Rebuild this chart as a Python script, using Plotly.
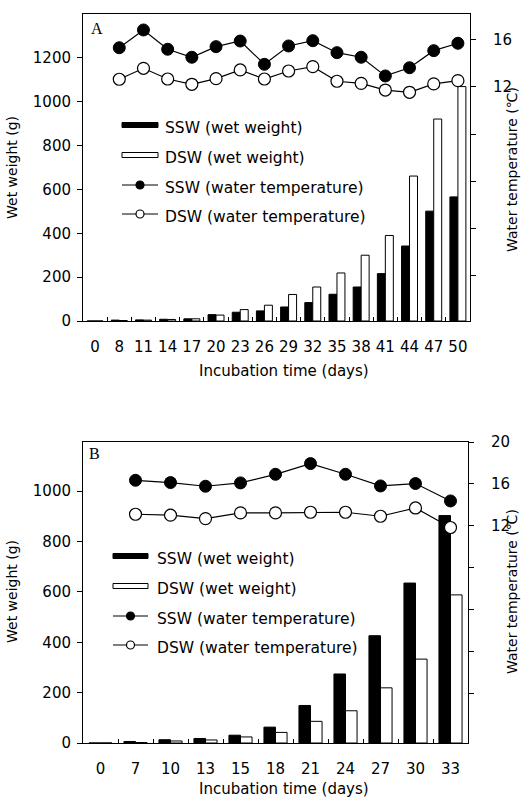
import plotly.graph_objects as go

W, H = 527, 799

# ---- Panel A data ----
days_a = ["0", "8", "11", "14", "17", "20", "23", "26", "29", "32", "35", "38", "41", "44", "47", "50"]
ssw_wt_a = [0, 4, 5, 8, 10, 29, 40, 46, 64, 84, 122, 155, 216, 342, 501, 566]
dsw_wt_a = [0, 2, 4, 7, 10, 27, 52, 72, 121, 155, 219, 300, 390, 661, 921, 1069]
temp_days_a = ["8", "11", "14", "17", "20", "23", "26", "29", "32", "35", "38", "41", "44", "47", "50"]
ssw_temp_a = [15.34, 16.85, 15.21, 14.53, 15.43, 15.91, 13.93, 15.49, 15.94, 14.92, 14.53, 12.94, 13.64, 15.09, 15.72]
dsw_temp_a = [12.66, 13.59, 12.68, 12.23, 12.71, 13.45, 12.68, 13.36, 13.73, 12.49, 12.31, 11.74, 11.55, 12.26, 12.54]

# ---- Panel B data ----
days_b = ["0", "7", "10", "13", "15", "18", "21", "24", "27", "30", "33"]
ssw_wt_b = [0, 6, 13, 18, 31, 63, 149, 274, 426, 635, 903]
dsw_wt_b = [0, 2, 8, 12, 24, 42, 86, 128, 219, 333, 588]
temp_days_b = ["7", "10", "13", "15", "18", "21", "24", "27", "30", "33"]
ssw_temp_b = [16.35, 16.13, 15.78, 16.10, 16.92, 17.94, 16.92, 15.81, 16.04, 14.38]
dsw_temp_b = [13.11, 13.02, 12.70, 13.24, 13.24, 13.30, 13.30, 12.92, 13.71, 11.85]

wt_ticks_a = [0, 200, 400, 600, 800, 1000, 1200]
wt_ticks_b = [0, 200, 400, 600, 800, 1000]
temp_ticks_a = [-4, 0, 4, 8, 12, 16]
temp_labels_a = ["", "", "", "", "12", "16"]
temp_ticks_b = [-4, 0, 4, 8, 12, 16, 20]
temp_labels_b = ["", "", "", "", "12", "16", "20"]

legend_labels = ["SSW (wet weight)", "DSW (wet weight)",
                 "SSW (water temperature)", "DSW (water temperature)"]

FONT = "DejaVu Sans"


def px(x):
    return x / W


def py(y):
    return 1 - y / H


fig = go.Figure()

bar_style = dict(width=0.33, showlegend=False)
fig.add_trace(go.Bar(x=days_a, y=ssw_wt_a, marker=dict(color="black", line=dict(color="black", width=1)),
                     xaxis="x", yaxis="y", **bar_style))
fig.add_trace(go.Bar(x=days_a, y=dsw_wt_a, marker=dict(color="white", line=dict(color="black", width=1)),
                     xaxis="x", yaxis="y", **bar_style))
fig.add_trace(go.Bar(x=days_b, y=ssw_wt_b, marker=dict(color="black", line=dict(color="black", width=1)),
                     xaxis="x2", yaxis="y3", **bar_style))
fig.add_trace(go.Bar(x=days_b, y=dsw_wt_b, marker=dict(color="white", line=dict(color="black", width=1)),
                     xaxis="x2", yaxis="y3", **bar_style))

line_style = dict(mode="lines+markers", line=dict(color="black", width=1.2), showlegend=False)
fig.add_trace(go.Scatter(x=temp_days_a, y=ssw_temp_a, xaxis="x", yaxis="y2",
                         marker=dict(size=12, color="black", line=dict(color="black", width=1)), **line_style))
fig.add_trace(go.Scatter(x=temp_days_a, y=dsw_temp_a, xaxis="x", yaxis="y2",
                         marker=dict(size=12, color="white", line=dict(color="black", width=1.2)), **line_style))
fig.add_trace(go.Scatter(x=temp_days_b, y=ssw_temp_b, xaxis="x2", yaxis="y4",
                         marker=dict(size=12, color="black", line=dict(color="black", width=1)), **line_style))
fig.add_trace(go.Scatter(x=temp_days_b, y=dsw_temp_b, xaxis="x2", yaxis="y4",
                         marker=dict(size=12, color="white", line=dict(color="black", width=1.2)), **line_style))

tick_font = dict(family=FONT, size=15, color="black")
common_axis = dict(showgrid=False, zeroline=False, showline=True, linecolor="black", linewidth=1,
                   tickcolor="black", tickfont=tick_font, automargin=False)

dom_x_a = [px(83), px(470)]
dom_y_a = [py(321), py(14)]
dom_x_b = [px(83), px(468)]
dom_y_b = [py(743), py(442)]

xcat = dict(type="category", tickson="boundaries", ticks="inside", ticklen=4, tickangle=0,
            mirror=True, ticklabelstandoff=12, **common_axis)

fig.update_layout(
    width=W, height=H,
    margin=dict(l=0, r=0, t=0, b=0),
    paper_bgcolor="white", plot_bgcolor="white",
    barmode="group", bargap=0.34, bargroupgap=0,
    font=dict(family=FONT, color="black"),
    xaxis=dict(domain=dom_x_a, anchor="y", range=[-0.5, 15.5],
               categoryorder="array", categoryarray=days_a, **xcat),
    yaxis=dict(domain=dom_y_a, anchor="x", range=[0, 1400], tickvals=wt_ticks_a,
               ticks="outside", ticklen=5, ticklabelstandoff=3, **common_axis),
    yaxis2=dict(overlaying="y", anchor="x", side="right", range=[-7.91, 18.21],
                tickvals=temp_ticks_a, ticktext=temp_labels_a,
                ticks="outside", ticklen=5, ticklabelstandoff=14, **common_axis),
    xaxis2=dict(domain=dom_x_b, anchor="y3", range=[-0.5, 10.5],
                categoryorder="array", categoryarray=days_b, **xcat),
    yaxis3=dict(domain=dom_y_b, anchor="x2", range=[0, 1195], tickvals=wt_ticks_b,
                ticks="outside", ticklen=5, ticklabelstandoff=3, **common_axis),
    yaxis4=dict(overlaying="y3", anchor="x2", side="right", range=[-8.7, 20],
                tickvals=temp_ticks_b, ticktext=temp_labels_b,
                ticks="outside", ticklen=5, ticklabelstandoff=14, **common_axis),
)

annotations = []
shapes = []

title_font = dict(family=FONT, size=14, color="black")
for yc_left, yc_right, yx in [(168, 170, 360), (592, 592, 778)]:
    annotations.append(dict(text="Wet weight (g)", x=px(12), y=py(yc_left), xref="paper", yref="paper",
                            textangle=-90, showarrow=False, font=title_font,
                            xanchor="center", yanchor="middle"))
    annotations.append(dict(text="Water temperature (℃)", x=px(512), y=py(yc_right), xref="paper",
                            yref="paper", textangle=-90, showarrow=False, font=title_font,
                            xanchor="center", yanchor="middle"))
    annotations.append(dict(text="Incubation time (days)", x=px(284), y=py(yx), xref="paper",
                            yref="paper", showarrow=False, font=dict(family=FONT, size=15, color="black"),
                            xanchor="center", yanchor="top"))

# panel letters
for letter, lx, ly in [("A", 97, 28), ("B", 94, 453)]:
    annotations.append(dict(text=letter, x=px(lx), y=py(ly), xref="paper", yref="paper", showarrow=False,
                            font=dict(family="Liberation Serif", size=16, color="black"),
                            xanchor="center", yanchor="middle"))

# legends drawn inside each panel
legend_font = dict(family=FONT, size=15.5, color="black")
for sx0, sx1, tx, rows in [(122, 158, 163, [125, 155, 185, 214]),
                           (113, 148, 155, [556, 586, 616, 645])]:
    for i, (label, ry) in enumerate(zip(legend_labels, rows)):
        annotations.append(dict(text=label, x=px(tx), y=py(ry + 3), xref="paper", yref="paper",
                                showarrow=False, font=legend_font, xanchor="left", yanchor="middle"))
        if i < 2:
            fill = "black" if i == 0 else "white"
            shapes.append(dict(type="rect", xref="paper", yref="paper",
                               x0=px(sx0), x1=px(sx1), y0=py(ry + 2.5), y1=py(ry - 2.5),
                               fillcolor=fill, line=dict(color="black", width=1)))
        else:
            fill = "black" if i == 2 else "white"
            cx = (sx0 + sx1) / 2
            shapes.append(dict(type="line", xref="paper", yref="paper",
                               x0=px(sx0), x1=px(sx1), y0=py(ry), y1=py(ry),
                               line=dict(color="black", width=1.2)))
            shapes.append(dict(type="circle", xref="paper", yref="paper",
                               x0=px(cx - 4), x1=px(cx + 4), y0=py(ry + 4), y1=py(ry - 4),
                               fillcolor=fill, line=dict(color="black", width=1.2)))

fig.update_layout(annotations=annotations, shapes=shapes)

fig.write_html("out.html")
